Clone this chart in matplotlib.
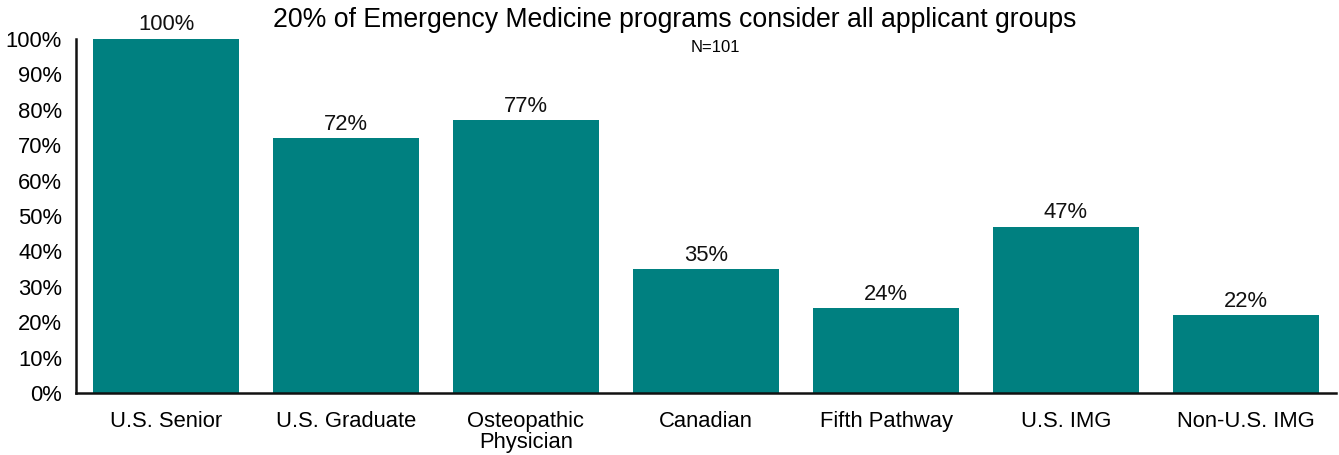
import matplotlib
matplotlib.use("Agg")
import matplotlib.pyplot as plt
from matplotlib.ticker import FuncFormatter

categories = ["U.S. Senior", "U.S. Graduate", "Osteopathic\nPhysician", "Canadian",
              "Fifth Pathway", "U.S. IMG", "Non-U.S. IMG"]
values = [100, 72, 77, 35, 24, 47, 22]
yticks = [0, 10, 20, 30, 40, 50, 60, 70, 80, 90, 100]

plt.rcParams['font.family'] = ['Liberation Sans', 'DejaVu Sans']

fig = plt.figure(figsize=(13.39, 4.55), dpi=100)
ax = fig.add_axes([76/1339, 1-393/455, (1336-76)/1339, (393-39)/455])

x = list(range(len(categories)))
bars = ax.bar(x, values, width=0.81, color="#008080")
for xi, v in zip(x, values):
    ax.text(xi, v + 1.0, f"{v}%", ha="center", va="bottom", fontsize=15.8, color="#111111")

ax.set_xlim(-0.5, len(categories) - 0.5)
ax.set_ylim(0, 100)
ax.set_yticks(yticks)
ax.yaxis.set_major_formatter(FuncFormatter(lambda v, p: f"{int(v)}%"))
ax.set_xticks(x)
ax.set_xticklabels(categories, fontsize=15.8, linespacing=1.0)
ax.tick_params(axis='y', length=0, labelsize=15.8, pad=10)
ax.tick_params(axis='x', length=0, pad=13)
for s in ["top", "right"]:
    ax.spines[s].set_visible(False)
for s in ["left", "bottom"]:
    ax.spines[s].set_linewidth(1.8)
    ax.spines[s].set_color("#111111")

fig.text(675/1339, 1-20/455, "20% of Emergency Medicine programs consider all applicant groups",
         ha="center", va="center", fontsize=19.2)
fig.text(715/1339, 1-47/455, "N=101", ha="center", va="center", fontsize=12)

fig.savefig("out.png", dpi=100)
